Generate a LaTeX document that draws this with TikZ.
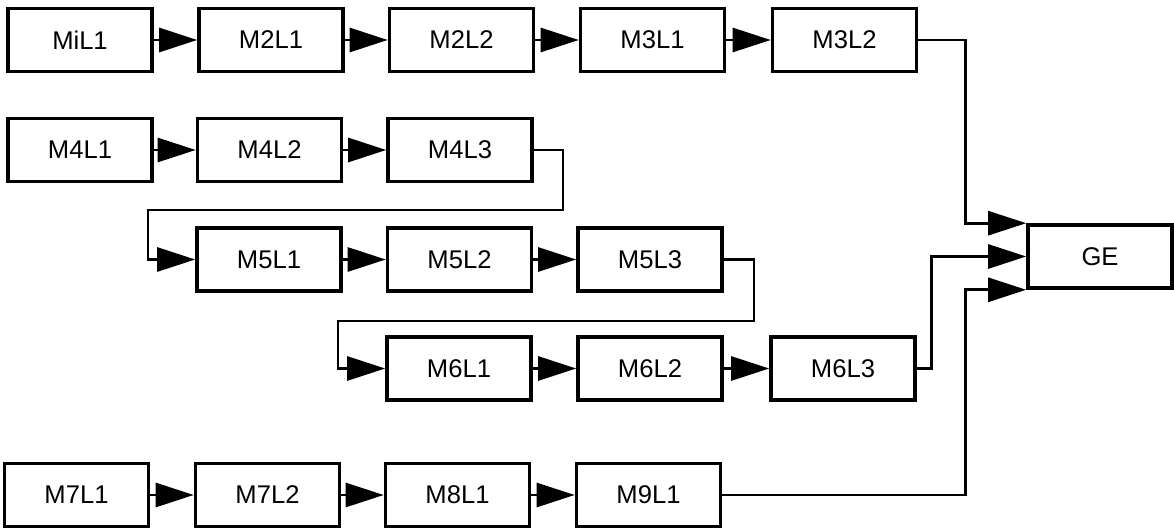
\documentclass[tikz,border=0pt]{standalone}
\usepackage{fontspec}
\setmainfont{Liberation Sans}
\usetikzlibrary{arrows.meta}
\begin{document}
\begin{tikzpicture}[x=0.5pt,y=-0.5pt,
  blk/.style={draw, line width=1.8pt, minimum width=72pt, minimum height=31.5pt,
    inner sep=0pt, font=\fontsize{12.8pt}{15pt}\selectfont},
  link/.style={line width=1.4pt, -{Triangle[length=19pt,width=12pt]}},
  wire/.style={line width=1.4pt}]
\useasboundingbox (0,0) rectangle (1174,529);

% first chain
\node[blk] (a1) at (80,40)    {MiL1};
\node[blk] (a2) at (271,40)   {M2L1};
\node[blk] (a3) at (461.5,40) {M2L2};
\node[blk] (a4) at (652.5,40) {M3L1};
\node[blk] (a5) at (844.5,40) {M3L2};

% second chain, wrapping over three rows
\node[blk] (b1) at (80,150)    {M4L1};
\node[blk] (b2) at (269.5,150) {M4L2};
\node[blk] (b3) at (460,150)   {M4L3};
\node[blk] (c1) at (269,259.5) {M5L1};
\node[blk] (c2) at (459.5,259.5) {M5L2};
\node[blk] (c3) at (650,259.5) {M5L3};
\node[blk] (d1) at (459,368.5) {M6L1};
\node[blk] (d2) at (650,368.5) {M6L2};
\node[blk] (d3) at (843,368.5) {M6L3};

% third chain
\node[blk] (e1) at (76.5,495)  {M7L1};
\node[blk] (e2) at (267.5,495) {M7L2};
\node[blk] (e3) at (457.5,495) {M8L1};
\node[blk] (e4) at (648.5,495) {M9L1};

% collector
\node[blk] (ge) at (1100,256.5) {GE};

% straight links
\foreach \p/\q in {a1/a2,a2/a3,a3/a4,a4/a5,b1/b2,b2/b3,c1/c2,c2/c3,d1/d2,d2/d3,e1/e2,e2/e3,e3/e4}
  \draw[link] (\p.east) -- (\q.west);

% row wraps
\coordinate (w1) at (563,210);
\coordinate (w2) at (148,210);
\draw[link] (b3.east) -| (w1) -- (w2) |- (c1.west);
\coordinate (v1) at (754,321);
\coordinate (v2) at (338,321);
\draw[link] (c3.east) -| (v1) -- (v2) |- (d1.west);

% into the collector
\draw[link] (a5.east) -- ++(47,0) |- (ge.north west);
\draw[link] (d3.east) -- ++(15,0) |- (ge.west);
\draw[link] (e4.east) -- ++(243,0) |- (ge.south west);
\end{tikzpicture}
\end{document}
